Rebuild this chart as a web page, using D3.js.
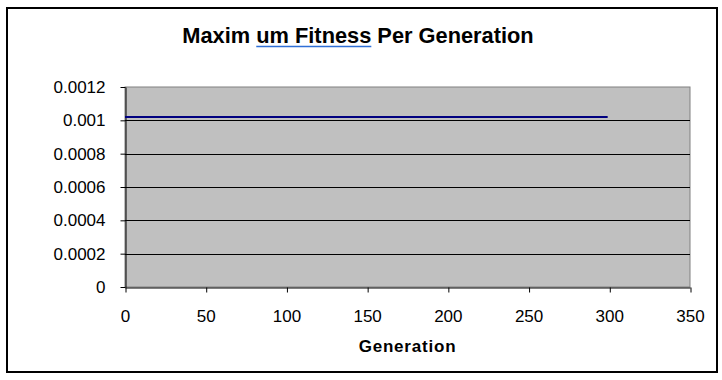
<!DOCTYPE html>
<html lang="en">
    <head>
        <meta charset="utf-8">
        <title>Maximum Fitness Per Generation</title>
        <script type="text/javascript" src="https://cdn.jsdelivr.net/npm/d3@7"></script>
        <style>
            body { margin: 0; background: #fff; }
        </style>
    </head>
    <body>
        <script type="text/javascript">

        var w = 722;
        var h = 380;

        // data: fitness stays flat over the run
        var generations = [0, 299];
        var maxFitness = [0.00102, 0.00102];

        var xTicks = [0, 50, 100, 150, 200, 250, 300, 350];
        var yTicks = [0, 0.0002, 0.0004, 0.0006, 0.0008, 0.001, 0.0012];
        var yTickLabels = ["0", "0.0002", "0.0004", "0.0006", "0.0008", "0.001", "0.0012"];

        var plotLeft = 125, plotRight = 690, plotTop = 87, plotBottom = 287;
        var font = "'Liberation Sans', Arial, sans-serif";

        var svg = d3.select("body")
            .append("svg")
            .attr("width", w)
            .attr("height", h);

        // outer chart frame
        svg.append("rect")
           .attr("x", 7)
           .attr("y", 8)
           .attr("width", 710)
           .attr("height", 364)
           .attr("fill", "#fff")
           .attr("stroke", "#000")
           .attr("stroke-width", 2);

        var x = d3.scaleLinear().domain([0, 350]).range([plotLeft, plotRight]);
        var y = d3.scaleLinear().domain([0, 0.0012]).range([plotBottom, plotTop]);

        // plot area
        svg.append("rect")
           .attr("x", plotLeft)
           .attr("y", plotTop)
           .attr("width", plotRight - plotLeft)
           .attr("height", plotBottom - plotTop)
           .attr("fill", "#c0c0c0")
           .attr("stroke", "#808080")
           .attr("stroke-width", 1);

        // gridlines
        svg.selectAll("line.grid")
           .data(yTicks.slice(1, -1))
           .enter()
           .append("line")
           .attr("class", "grid")
           .attr("x1", plotLeft)
           .attr("x2", plotRight)
           .attr("y1", function(d) { return Math.round(y(d)) + 0.5; })
           .attr("y2", function(d) { return Math.round(y(d)) + 0.5; })
           .attr("stroke", "#000")
           .attr("stroke-width", 1);

        var yAxis = svg.append("g")
           .attr("transform", "translate(" + (plotLeft + 0.5) + ",0)")
           .call(d3.axisLeft(y)
                .tickValues(yTicks)
                .tickFormat(function(d, i) { return yTickLabels[i]; })
                .tickSizeInner(5)
                .tickSizeOuter(0)
                .tickPadding(15));

        var xAxis = svg.append("g")
           .attr("transform", "translate(0," + (plotBottom + 0.5) + ")")
           .call(d3.axisBottom(x)
                .tickValues(xTicks)
                .tickFormat(d3.format("d"))
                .tickSizeInner(5)
                .tickSizeOuter(0)
                .tickPadding(17));

        [yAxis, xAxis].forEach(function(g) {
            g.selectAll("path, line").attr("stroke", "#000");
            g.selectAll("text")
             .attr("font-family", font)
             .attr("font-size", "17px")
             .attr("fill", "#000");
        });
        xAxis.selectAll("line").attr("transform", "translate(0.5,0)");

        // data line
        var points = generations.map(function(g, i) { return [g, maxFitness[i]]; });
        svg.append("path")
           .datum(points)
           .attr("fill", "none")
           .attr("stroke", "#000080")
           .attr("stroke-width", 2)
           .attr("d", d3.line()
                .x(function(d) { return x(d[0]); })
                .y(function(d) { return y(d[1]); }));

        // title, with the underlined run as in the original
        var title = svg.append("text")
           .attr("x", 358)
           .attr("y", 43)
           .attr("text-anchor", "middle")
           .attr("font-family", font)
           .attr("font-weight", "bold")
           .attr("font-size", "21.8px")
           .attr("fill", "#000");
        title.append("tspan").text("Maxim ");
        var under = title.append("tspan").text("um Fitness");
        title.append("tspan").text(" Per Generation");

        var tb = under.node().getBBox();
        svg.append("line")
           .attr("x1", tb.x)
           .attr("x2", tb.x + tb.width)
           .attr("y1", 46.5)
           .attr("y2", 46.5)
           .attr("stroke", "#2f6fd6")
           .attr("stroke-width", 1.5);

        svg.append("text")
           .attr("x", (plotLeft + plotRight) / 2)
           .attr("y", 352)
           .attr("text-anchor", "middle")
           .attr("font-family", font)
           .attr("font-weight", "bold")
           .attr("font-size", "17px")
           .attr("letter-spacing", "0.8px")
           .attr("fill", "#000")
           .text("Generation");
        </script>
    </body>
</html>
